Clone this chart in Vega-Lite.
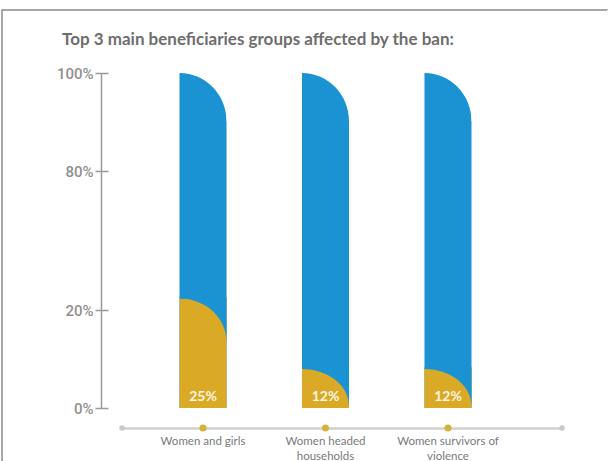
{
  "$schema": "https://vega.github.io/schema/vega-lite/v6.json",
  "autosize": "none",
  "width": 606,
  "height": 451,
  "padding": {"left": 2, "top": 10, "right": 0, "bottom": 0},
  "background": "white",
  "config": {
    "view": {
      "stroke": {"gradient": "linear", "x1": 0, "y1": 0, "x2": 1, "y2": 1,
        "stops": [{"offset": 0, "color": "#8a8a8a"}, {"offset": 0.5, "color": "#8a8a8a"}, {"offset": 0.5, "color": "rgba(255,255,255,0)"}, {"offset": 1, "color": "rgba(255,255,255,0)"}]},
      "strokeWidth": 1.5
    }
  },
  "title": {
    "text": "Top 3 main beneficiaries groups affected by the ban:",
    "anchor": "start",
    "frame": "group",
    "font": "Lato",
    "fontSize": 17,
    "fontWeight": "bold",
    "color": "#6e6e6e",
    "baseline": "alphabetic",
    "offset": 0,
    "dx": 60,
    "dy": 52
  },
  "data": {
    "values": [
      {"group": "Women and girls", "value": 0.25},
      {"group": "Women headed households", "value": 0.12},
      {"group": "Women survivors of violence", "value": 0.12}
    ]
  },
  "encoding": {
    "x": {
      "field": "group",
      "type": "nominal",
      "sort": null,
      "scale": {"range": [120, 560], "paddingInner": 0.616, "paddingOuter": 0.604, "align": 0.3885},
      "axis": {
        "orient": "bottom",
        "offset": -33,
        "title": null,
        "domainColor": "#d0d0d0",
        "domainWidth": 2.5,
        "ticks": false,
        "labelAngle": 0,
        "labelPadding": 7,
        "labelColor": "#7a7a7a",
        "labelFont": "Lato",
        "labelFontSize": 11.5,
        "labelLineHeight": 15,
        "labelBaseline": "top",
        "labelExpr": "datum.value == 'Women headed households' ? ['Women headed', 'households'] : datum.value == 'Women survivors of violence' ? ['Women survivors of', 'violence'] : datum.value"
      }
    }
  },
  "layer": [
    {
      "mark": {"type": "bar", "color": "#1b93d3"},
      "encoding": {
        "y": {
          "datum": 1,
          "type": "quantitative",
          "scale": {"domain": [0, 0.12, 0.2, 0.8, 1], "range": [398, 359, 300, 161, 63], "zero": false, "nice": false},
          "axis": {
            "orient": "left",
            "offset": -99,
            "title": null,
            "values": [0, 0.2, 0.8, 1],
            "format": ".0%",
            "grid": false,
            "domainColor": "#9a9a9a",
            "domainWidth": 1.5,
            "tickColor": "#9a9a9a",
            "tickWidth": 1.5,
            "tickSize": 6,
            "labelPadding": 2,
            "labelColor": "#909090",
            "labelFont": "Roboto",
            "labelFontWeight": 500,
            "labelFontSize": 15
          }
        },
        "y2": {"datum": 0}
      }
    },
    {
      "mark": {"type": "point", "filled": true, "color": "white", "opacity": 1, "strokeWidth": 0, "size": 2209, "yOffset": 24,
        "shape": "M-1,-1.08L1.06,-1.08L1.06,1.02L1,1.02A2,2.04,0,0,0,-1,-1.02Z"},
      "encoding": {
        "y": {"datum": 1, "type": "quantitative", "axis": null}
      }
    },
    {
      "mark": {"type": "bar", "color": "#daaa26"},
      "encoding": {
        "y": {
          "field": "value",
          "type": "quantitative",
          "axis": {
            "orient": "left",
            "offset": -99,
            "title": null,
            "values": [0, 0.2, 0.8, 1],
            "labels": false,
            "domain": false,
            "grid": false,
            "tickColor": "#9a9a9a",
            "tickWidth": 1.5,
            "tickSize": -7
          }
        },
        "y2": {"datum": 0}
      }
    },
    {
      "transform": [{"filter": "datum.value >= 0.2"}],
      "mark": {"type": "point", "filled": true, "color": "#1b93d3", "opacity": 1, "strokeWidth": 0, "size": 2209, "yOffset": 21.5,
        "shape": "M-1,-0.98L1,-0.98L1,0.915A2,1.83,0,0,0,-1,-0.915Z"},
      "encoding": {
        "y": {"field": "value", "type": "quantitative", "axis": null}
      }
    },
    {
      "transform": [{"filter": "datum.value < 0.2"}],
      "mark": {"type": "point", "filled": true, "color": "#1b93d3", "opacity": 1, "strokeWidth": 0, "size": 2209, "yOffset": 18.5,
        "shape": "M-1,-0.86L1,-0.86L1,0.787A2,1.574,0,0,0,-1,-0.787Z"},
      "encoding": {
        "y": {"field": "value", "type": "quantitative", "axis": null}
      }
    },
    {
      "mark": {"type": "text", "color": "#fbf5e4", "font": "Lato", "fontWeight": "bold", "fontSize": 14, "baseline": "alphabetic", "dy": -7},
      "encoding": {
        "y": {"datum": 0, "type": "quantitative", "axis": null},
        "text": {"field": "value", "type": "quantitative", "format": ".0%"}
      }
    },
    {
      "mark": {"type": "point", "filled": true, "color": "#d4b33a", "size": 50, "opacity": 1, "yOffset": 20},
      "encoding": {
        "y": {"datum": 0, "type": "quantitative", "axis": null}
      }
    },
    {
      "data": {"values": [{"end": 0}, {"end": 1}]},
      "mark": {"type": "point", "filled": true, "color": "#c9c9c9", "size": 30, "opacity": 1, "yOffset": 20},
      "encoding": {
        "x": {"value": {"expr": "range('x')[datum.end]"}},
        "y": {"datum": 0, "type": "quantitative", "axis": null}
      }
    }
  ],
  "resolve": {"axis": {"y": "independent"}}
}
